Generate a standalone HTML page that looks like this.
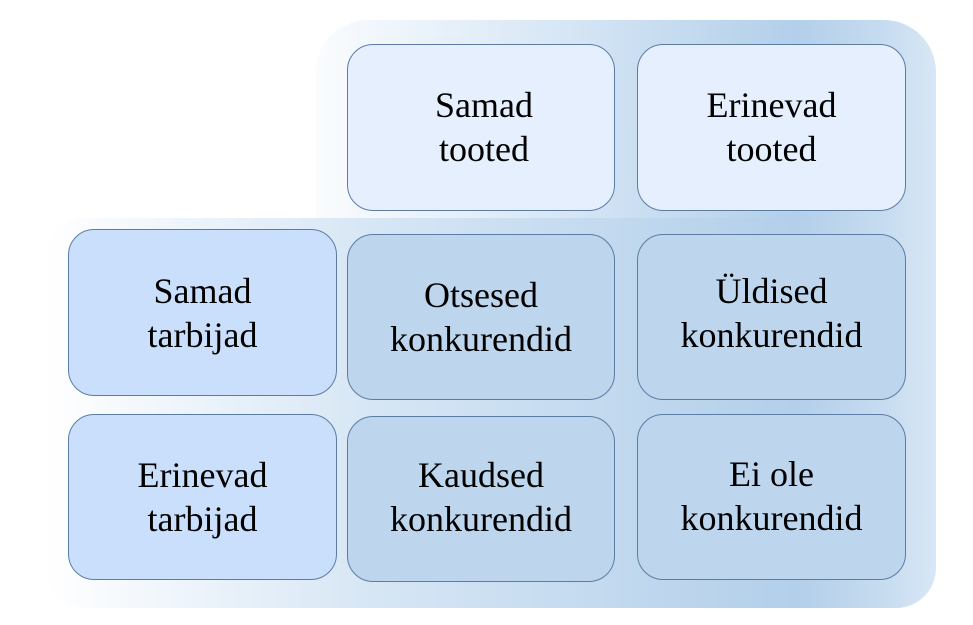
<!DOCTYPE html>
<html><head><meta charset="utf-8"><style>
body{margin:0;width:973px;height:625px;background:#fff;position:relative;overflow:hidden;font-family:"Liberation Serif",serif;}
.bg{position:absolute;}
.box{position:absolute;border:1.3px solid #5d7ca3;border-radius:26px;box-sizing:border-box;display:flex;align-items:center;justify-content:center;text-align:center;font-size:36px;line-height:44px;color:#000;}
.t{background:#e5effd;} .l{background:#cadffb;} .m{background:#bdd6ee;}
</style></head><body>
<div class="bg" style="left:316px;top:20px;width:620px;height:260px;border-radius:52px 52px 0 0;background:linear-gradient(90deg,#fafcfe 0px,#d6e6f5 250px,#b3cfea 480px,#c4daef 560px,#d8e7f5 620px);"></div>
<div class="bg" style="left:45px;top:218px;width:891px;height:390px;border-radius:40px 40px 40px 40px;border-top-right-radius:0;background:linear-gradient(90deg,#ffffff 0px,#d6e6f5 330px,#b3cfea 750px,#c4daef 830px,#d8e7f5 891px);"></div>
<div class="box t" style="left:347px;top:44px;width:268px;height:167px;padding-left:6px;padding-bottom:2px">Samad<br>tooted</div>
<div class="box t" style="left:637px;top:44px;width:269px;height:167px;padding-bottom:2px">Erinevad<br>tooted</div>
<div class="box l" style="left:68px;top:229px;width:269px;height:167px;">Samad<br>tarbijad</div>
<div class="box m" style="left:347px;top:234px;width:268px;height:166px;">Otsesed<br>konkurendid</div>
<div class="box m" style="left:637px;top:234px;width:269px;height:166px;padding-bottom:8px">Üldised<br>konkurendid</div>
<div class="box l" style="left:68px;top:414px;width:269px;height:166px;">Erinevad<br>tarbijad</div>
<div class="box m" style="left:347px;top:416px;width:268px;height:166px;padding-bottom:4px">Kaudsed<br>konkurendid</div>
<div class="box m" style="left:637px;top:414px;width:269px;height:166px;padding-bottom:2px">Ei ole<br>konkurendid</div>
</body></html>
